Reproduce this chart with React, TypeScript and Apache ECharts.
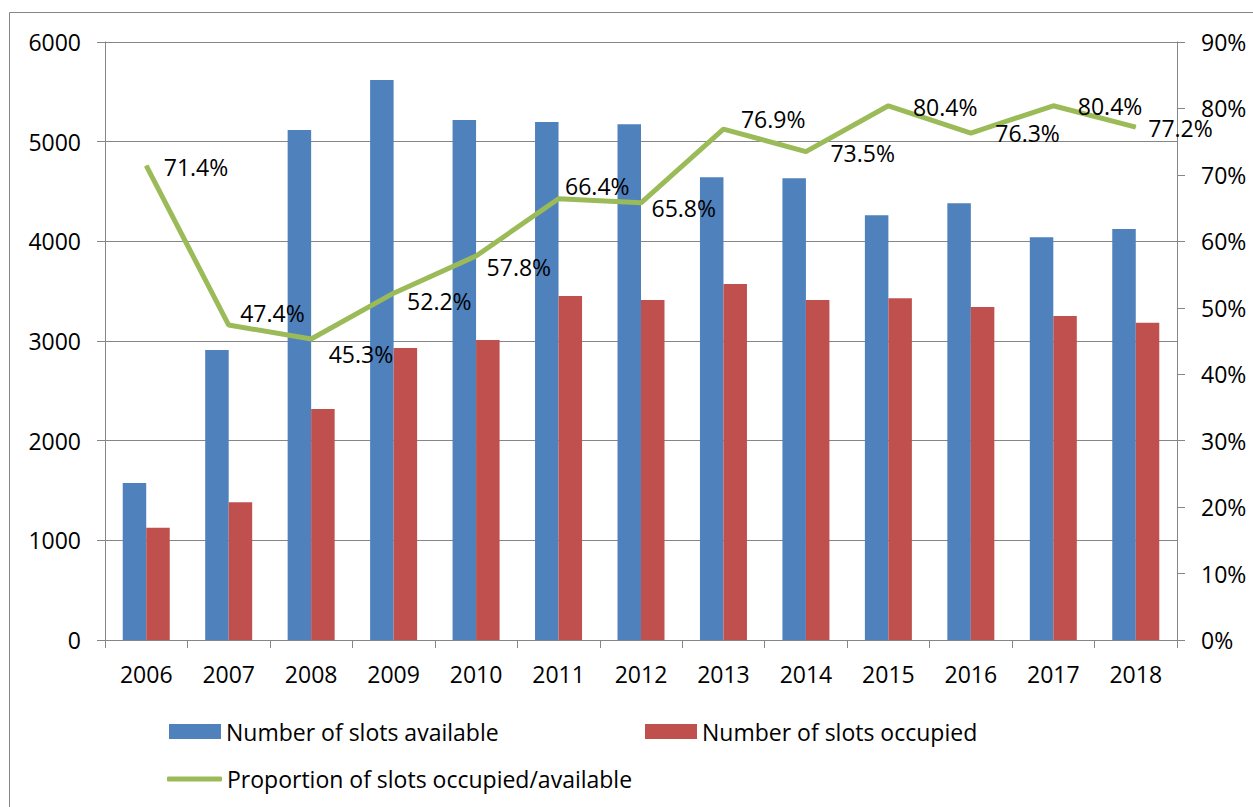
import React, { useEffect, useRef } from "react";
import * as echarts from "echarts";

const years = ["2006", "2007", "2008", "2009", "2010", "2011", "2012", "2013", "2014", "2015", "2016", "2017", "2018"];
const available = [1575, 2910, 5117, 5619, 5217, 5197, 5174, 4642, 4632, 4261, 4382, 4040, 4124];
const occupied = [1127, 1381, 2318, 2930, 3010, 3452, 3411, 3572, 3411, 3428, 3341, 3251, 3184];
const proportion = [71.4, 47.4, 45.3, 52.2, 57.8, 66.4, 65.8, 76.9, 73.5, 80.4, 76.3, 80.4, 77.2];
const leftTicks = [0, 6000, 1000];
const rightTicks = [0, 90, 10];

const labelOffsets = [
  [17, 1], [11, -12], [17, 15], [13, 8], [10, 11], [6, -13], [10, 5],
  [17, -10], [24, 1], [24, 1], [24, 0], [24, 0], [12, 1],
];

const FONT = "Open Sans";
const AXIS = "#868686";
const BLUE = "#4F81BD";
const RED = "#C0504D";
const GREEN = "#9BBB59";

export default function App() {
  const ref = useRef<HTMLDivElement>(null);
  useEffect(() => {
    document.body.style.margin = "0";
    if (!ref.current) return;
    const chart = echarts.init(ref.current, null, { renderer: "svg" });
    const legendText = { fontFamily: FONT, fontSize: 23, color: "#000", lineHeight: 24 };
    chart.setOption({
      animation: false,
      backgroundColor: "#fff",
      textStyle: { fontFamily: FONT },
      graphic: [
        {
          type: "rect",
          shape: { x: 9.5, y: 12.5, width: 1400, height: 1000 },
          style: { fill: "none", stroke: AXIS, lineWidth: 1 },
          silent: true,
        },
      ],
      grid: { left: 105, right: 76, top: 42, bottom: 167 },
      legend: [
        {
          data: ["Number of slots available"],
          left: 169, top: 719.5, padding: 0, itemWidth: 52, itemHeight: 15, icon: "rect",
          textStyle: legendText, selectedMode: false,
        },
        {
          data: ["Number of slots occupied"],
          left: 645, top: 719.5, padding: 0, itemWidth: 52, itemHeight: 15, icon: "rect",
          textStyle: legendText, selectedMode: false,
        },
        {
          data: [{ name: "Proportion of slots occupied/available", icon: "roundRect" }],
          left: 167, top: 767, padding: 0, itemWidth: 55, itemHeight: 5,
          textStyle: legendText, selectedMode: false,
        },
      ],
      xAxis: {
        type: "category",
        data: years,
        boundaryGap: true,
        axisLine: { lineStyle: { color: AXIS, width: 1 } },
        axisTick: { show: true, length: 8, lineStyle: { color: AXIS } },
        axisLabel: { fontFamily: FONT, fontSize: 23, color: "#000", margin: 22 },
      },
      yAxis: [
        {
          type: "value",
          min: leftTicks[0], max: leftTicks[1], interval: leftTicks[2],
          axisLine: { show: true, lineStyle: { color: AXIS } },
          axisTick: { show: true, length: 8, lineStyle: { color: AXIS } },
          splitLine: { show: true, lineStyle: { color: AXIS, width: 1 } },
          axisLabel: {
            fontFamily: FONT, fontSize: 23, color: "#000", margin: 24,
            formatter: (v: number) => String(v),
          },
        },
        {
          type: "value",
          min: rightTicks[0], max: rightTicks[1], interval: rightTicks[2],
          position: "right",
          axisLine: { show: true, lineStyle: { color: AXIS } },
          axisTick: { show: true, length: 8, lineStyle: { color: AXIS } },
          splitLine: { show: false },
          axisLabel: { fontFamily: FONT, fontSize: 23, color: "#000", margin: 24, formatter: "{value}%" },
        },
      ],
      series: [
        {
          name: "Number of slots available",
          type: "bar",
          data: available,
          yAxisIndex: 0,
          barGap: "0%",
          barCategoryGap: "43%",
          itemStyle: { color: BLUE },
        },
        {
          name: "Number of slots occupied",
          type: "bar",
          data: occupied,
          yAxisIndex: 0,
          barGap: "0%",
          barCategoryGap: "43%",
          itemStyle: { color: RED },
        },
        {
          name: "Proportion of slots occupied/available",
          type: "line",
          yAxisIndex: 1,
          data: proportion.map((v, i) => ({
            value: v,
            label: { offset: labelOffsets[i] },
          })),
          symbol: "circle",
          symbolSize: 1,
          lineStyle: { color: GREEN, width: 5 },
          itemStyle: { color: GREEN },
          label: {
            show: true,
            position: "right",
            distance: 0,
            fontFamily: FONT,
            fontSize: 23,
            color: "#000",
            formatter: (p: any) => Number(p.value).toFixed(1) + "%",
          },
          z: 5,
        },
      ],
    });
    return () => chart.dispose();
  }, []);
  return <div ref={ref} style={{ width: 1253, height: 807 }} />;
}
